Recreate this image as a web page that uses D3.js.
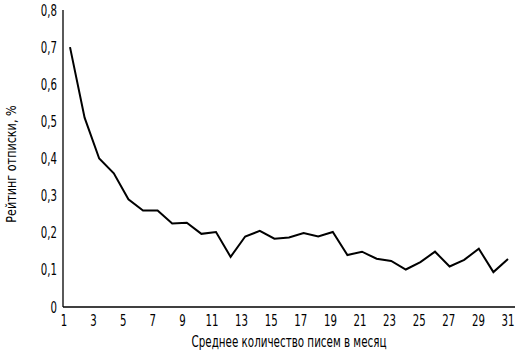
<!DOCTYPE html>
<html>
<head>
<meta charset="utf-8">
<script src="https://cdn.jsdelivr.net/npm/d3@7"></script>
<style>
  body { margin: 0; background: #fff; }
  text { font-family: "DejaVu Sans", sans-serif; fill: #000; }
</style>
</head>
<body>
<svg id="chart" width="517" height="353"></svg>
<script>
// average emails per month (1..31) vs unsubscribe rate, %
var emails = d3.range(1, 32);
var rate = [0.70, 0.51, 0.40, 0.36, 0.29, 0.26, 0.26, 0.225, 0.227, 0.197,
  0.202, 0.135, 0.19, 0.205, 0.184, 0.187, 0.199, 0.19, 0.202, 0.14,
  0.149, 0.13, 0.124, 0.101, 0.121, 0.149, 0.109, 0.127, 0.157, 0.094, 0.129];
var xTicks = [1, 3, 5, 7, 9, 11, 13, 15, 17, 19, 21, 23, 25, 27, 29, 31];
var yTicks = [0, 0.1, 0.2, 0.3, 0.4, 0.5, 0.6, 0.7, 0.8];
var xTitle = "Среднее количество писем в месяц";
var yTitle = "Рейтинг отписки, %";

var svg = d3.select("#chart");
var mLeft = 63, mBottom = 307, mTop = 10, mRight = 515;

var x = d3.scaleLinear().domain([1, 31]).range([70, 508]);
var xLab = d3.scaleLinear().domain([1, 31]).range([64, 508]);
var y = d3.scaleLinear().domain([0, 0.8]).range([mBottom, mTop]);
var fmt = function (d) { return d3.format(".1~f")(d).replace(".", ","); };

// axes lines
svg.append("line").attr("x1", mLeft).attr("x2", mLeft).attr("y1", mTop).attr("y2", mBottom)
  .attr("stroke", "#000").attr("stroke-width", 1.3);
svg.append("line").attr("x1", mLeft).attr("x2", mRight).attr("y1", mBottom).attr("y2", mBottom)
  .attr("stroke", "#000").attr("stroke-width", 1.3);

// condensed look: squeeze the glyphs horizontally
svg.selectAll(".ylab").data(yTicks).enter().append("text")
  .attr("class", "ylab")
  .attr("transform", d => "translate(57," + (y(d) + 5.5) + ") scale(0.68,1)")
  .attr("text-anchor", "end")
  .style("font-size", "15px")
  .text(fmt);

svg.selectAll(".xlab").data(xTicks).enter().append("text")
  .attr("class", "xlab")
  .attr("transform", d => "translate(" + xLab(d) + ",326) scale(0.68,1)")
  .attr("text-anchor", "middle")
  .style("font-size", "15px")
  .text(d => d);

svg.append("text")
  .attr("transform", "translate(289,347) scale(0.69,1)")
  .attr("text-anchor", "middle")
  .style("font-size", "15px")
  .text(xTitle);

svg.append("text")
  .attr("transform", "translate(16,164) rotate(-90) scale(0.8,1)")
  .attr("text-anchor", "middle")
  .style("font-size", "14px")
  .text(yTitle);

var line = d3.line().x((d, i) => x(emails[i])).y(d => y(d));
svg.append("path")
  .datum(rate)
  .attr("d", line)
  .attr("fill", "none")
  .attr("stroke", "#000")
  .attr("stroke-width", 2)
  .attr("stroke-linejoin", "miter");
</script>
</body>
</html>
